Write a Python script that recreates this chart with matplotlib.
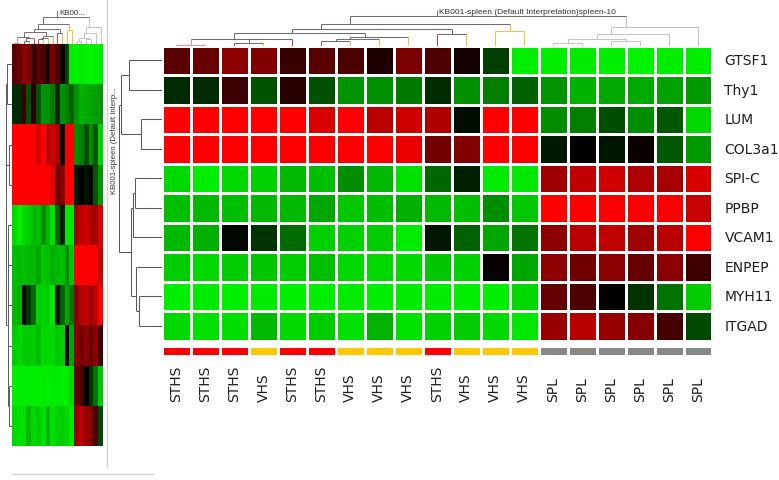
import numpy as np
import matplotlib
matplotlib.use("Agg")
import matplotlib.pyplot as plt
from matplotlib.colors import LinearSegmentedColormap, ListedColormap
from matplotlib.lines import Line2D
import matplotlib.transforms as mtransforms

# ---------------- data ----------------
genes = ["GTSF1", "Thy1", "LUM", "COL3a1", "SPI-C", "PPBP", "VCAM1", "ENPEP", "MYH11", "ITGAD"]
samples = ["STHS", "STHS", "STHS", "VHS", "STHS", "STHS", "VHS", "VHS", "VHS", "STHS",
           "VHS", "VHS", "VHS", "SPL", "SPL", "SPL", "SPL", "SPL", "SPL"]
group_names = ["STHS", "VHS", "SPL"]
group_colors = ["#ff0000", "#ffc800", "#888888"]

gtsf1 = [0.35, 0.40, 0.55, 0.50, 0.22, 0.35, 0.30, 0.12, 0.48, 0.30, 0.08, -0.25, -0.93, -0.93, -0.92, -0.93, -0.95, -0.93, -0.93]
thy1 = [-0.17, -0.17, 0.23, -0.32, 0.15, -0.32, -0.58, -0.57, -0.48, -0.17, -0.57, -0.50, -0.38, -0.58, -0.70, -0.66, -0.66, -0.63, -0.60]
lum = [1.0, 1.0, 1.0, 1.0, 1.0, 0.85, 1.0, 0.72, 0.80, 0.68, -0.05, 1.0, 1.0, -0.55, -0.50, -0.30, -0.55, -0.35, -0.85]
col3a1 = [1.0, 1.0, 1.0, 1.0, 1.0, 1.0, 1.0, 1.0, 0.92, 0.45, 0.50, 1.0, 1.0, -0.10, 0.0, -0.08, 0.04, -0.35, -0.60]
spic = [-0.85, -0.93, -0.85, -0.82, -0.72, -0.75, -0.55, -0.72, -0.88, -0.40, -0.12, -0.92, -0.90, 0.62, 0.75, 0.82, 0.68, 0.65, 0.85]
ppbp = [-0.75, -0.72, -0.75, -0.72, -0.72, -0.65, -0.78, -0.75, -0.68, -0.72, -0.75, -0.55, -0.78, 1.0, 1.0, 0.98, 1.0, 0.98, 0.78]
vcam1 = [-0.72, -0.68, -0.03, -0.20, -0.42, -0.82, -0.82, -0.80, -0.92, -0.08, -0.38, -0.65, -0.45, 0.55, 0.72, 0.75, 0.62, 0.72, 1.0]
enpep = [-0.80, -0.85, -0.80, -0.78, -0.80, -0.75, -0.85, -0.85, -0.85, -0.78, -0.82, 0.03, -0.65, 0.55, 0.45, 0.55, 0.40, 0.55, 0.25]
myh11 = [-0.93, -0.92, -0.93, -0.92, -0.93, -0.93, -0.92, -0.93, -0.92, -0.92, -0.93, -0.93, -0.85, 0.40, 0.30, 0.0, -0.20, -0.45, -0.80]
itgad = [-0.85, -0.88, -0.87, -0.72, -0.85, -0.80, -0.88, -0.70, -0.88, -0.82, -0.80, -0.85, -0.90, 0.60, 0.72, 0.58, 0.52, 0.28, -0.28]

# column dendrogram: merge child A, child B, height (leaves 0..18, new nodes 19..)
col_merge_a = [0, 2, 20, 19, 5, 23, 24, 22, 9, 26, 11, 28, 13, 15, 31, 33, 34, 30]
col_merge_b = [1, 3, 4, 21, 6, 7, 8, 25, 10, 27, 12, 29, 14, 16, 32, 17, 18, 35]
col_merge_h = [1.2, 3.5, 7.0, 7.3, 5.0, 7.0, 9.0, 13.0, 12.0, 17.0, 15.0, 22.0, 3.0, 5.0, 7.0, 12.0, 19.0, 30.0]

# row dendrogram (leaves 0..9, new nodes 10..)
row_merge_a = [0, 2, 10, 4, 13, 8, 7, 14, 12]
row_merge_b = [1, 3, 11, 5, 6, 9, 15, 16, 17]
row_merge_h = [33, 21, 41, 27, 29, 23, 26, 31, 43]

col_tree_label = "KB001-spleen (Default Interpretation)spleen-10"
mini_tree_label = "KB00..."
row_tree_label = "KB001-spleen (Default Interp..."

# ---------------- figure ----------------
W, H = 779, 481
fig = plt.figure(figsize=(W / 100, H / 100), dpi=100)
fig.patch.set_facecolor("white")


def px_axes(x0, y0, x1, y1):
    ax = fig.add_axes([x0 / W, 1 - y1 / H, (x1 - x0) / W, (y1 - y0) / H])
    ax.set_axis_off()
    return ax


data = np.array([gtsf1, thy1, lum, col3a1, spic, ppbp, vcam1, enpep, myh11, itgad])
nrow, ncol = data.shape
cmap = LinearSegmentedColormap.from_list("rg", [(0, 1, 0), (0, 0, 0), (1, 0, 0)])
grp_idx = np.array([[group_names.index(s) for s in samples]])

leaf_col = {"STHS": "#e43c3c", "VHS": "#f2c23c", "SPL": "#c4c4c4"}
node_col = {"STHS": "#f08c8c", "VHS": "#f2c23c", "SPL": "#c4c4c4"}
MIXED = "#6e6e6e"


def draw_tree(ax, n, ma, mb, mh, orient, groups=None, lw=0.75, single=None):
    pos = [i + 0.5 for i in range(n)]
    hts = [0.0] * n
    mem = [[i] for i in range(n)]

    def color_of(k):
        if single is not None:
            return single
        gs = set(groups[i] for i in mem[k])
        if len(gs) == 1:
            g = gs.pop()
            return leaf_col[g] if k < n else node_col[g]
        return MIXED

    def seg(p0, p1, h0, h1, c):
        if orient == "top":
            ax.plot([p0, p1], [h0, h1], color=c, lw=lw, solid_capstyle="butt")
        else:
            ax.plot([h0, h1], [p0, p1], color=c, lw=lw, solid_capstyle="butt")

    for a, b, h in zip(ma, mb, mh):
        m = mem[a] + mem[b]
        mem.append(m)
        pos.append(float(np.mean([i + 0.5 for i in m])))
        hts.append(h)
        k = len(mem) - 1
        seg(pos[a], pos[a], hts[a], h, color_of(a))
        seg(pos[b], pos[b], hts[b], h, color_of(b))
        seg(pos[a], pos[b], h, h, color_of(k))
    return pos[-1], hts[-1]


# main heatmap
ax = px_axes(162, 46.5, 712.5, 341.5)
ax.pcolormesh(np.arange(ncol + 1), np.arange(nrow + 1), data, cmap=cmap, vmin=-1, vmax=1,
              edgecolors="white", linewidth=1.8)
ax.set_xlim(0, ncol)
ax.set_ylim(nrow, 0)
lab_tr = mtransforms.offset_copy(ax.transData, fig=fig, x=12, y=0, units="dots")
for i, g in enumerate(genes):
    ax.text(ncol, i + 0.5, g, transform=lab_tr, ha="left", va="center",
            fontsize=10, color="#1e1e1e", family="DejaVu Sans")

# group colour strip
ax2 = px_axes(162, 346.5, 712.5, 356.5)
ax2.pcolormesh(np.arange(ncol + 1), [0, 1], grp_idx, cmap=ListedColormap(group_colors),
               vmin=-0.5, vmax=2.5, edgecolors="white", linewidth=1.8)
ax2.set_xlim(0, ncol)
ax2.set_ylim(1, 0)
btr = mtransforms.blended_transform_factory(ax2.transData, fig.transFigure)
for j, s in enumerate(samples):
    ax2.text(j + 0.5, 1 - 402 / H, s, transform=btr, rotation=90, ha="center", va="bottom",
             fontsize=10, color="#1e1e1e", family="DejaVu Sans")

# column dendrogram
axc = px_axes(162, 6, 712.5, 47)
rx, rh = draw_tree(axc, ncol, col_merge_a, col_merge_b, col_merge_h, "top", groups=samples)
axc.plot([rx, rx], [rh, rh + 5], color=MIXED, lw=0.75)
axc.text(rx + 0.05, rh + 0.8, col_tree_label, fontsize=6.0, family="Liberation Sans",
         color="#333333", ha="left", va="bottom")
axc.set_xlim(0, ncol)
axc.set_ylim(0, 41)

# row dendrogram
axr = px_axes(114, 46.5, 162, 341.5)
ry, rd = draw_tree(axr, nrow, row_merge_a, row_merge_b, row_merge_h, "left", single="#5a5a5a")
axr.text(rd + 0.8, ry, row_tree_label, rotation=90, fontsize=5.6, family="Liberation Sans",
         color="#333333", ha="right", va="bottom")
axr.set_xlim(48, 0)
axr.set_ylim(nrow, 0)

# mini overview heatmap
axm = px_axes(12, 45, 103, 447)
axm.pcolormesh(np.arange(ncol + 1), np.arange(nrow + 1), data, cmap=cmap, vmin=-1, vmax=1)
axm.set_xlim(0, ncol)
axm.set_ylim(nrow, 0)

axmc = px_axes(12, 6, 103, 45)
mx, mh = draw_tree(axmc, ncol, col_merge_a, col_merge_b, col_merge_h, "top", groups=samples, lw=0.7)
axmc.plot([mx, mx], [mh, mh + 6], color=MIXED, lw=0.7)
axmc.text(mx + 0.3, mh + 1.0, mini_tree_label, fontsize=5.8, family="Liberation Sans",
          color="#333333", ha="left", va="bottom")
axmc.set_xlim(0, ncol)
axmc.set_ylim(0, 43)

axmr = px_axes(0, 45, 12, 447)
draw_tree(axmr, nrow, row_merge_a, row_merge_b, row_merge_h, "left", single="#5a5a5a", lw=0.7)
axmr.set_xlim(86, 0)
axmr.set_ylim(nrow, 0)

# separators
fig.add_artist(Line2D([107 / W, 107 / W], [1.0, 1 - 468 / H], color="#d4d4d4", lw=1))
fig.add_artist(Line2D([12 / W, 153 / W], [1 - 475 / H, 1 - 475 / H], color="#d4d4d4", lw=1))

fig.savefig("out.png", dpi=100, facecolor="white")
